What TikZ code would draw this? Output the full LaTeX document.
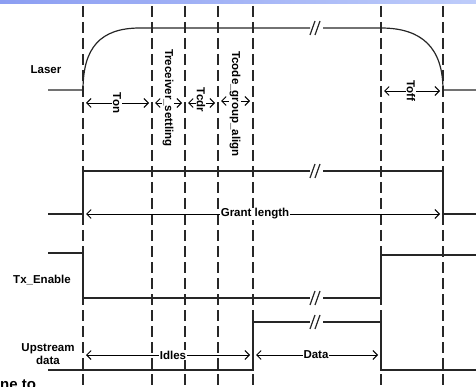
\documentclass[tikz,border=0pt]{standalone}
\usepackage{fontspec}
\setmainfont{Liberation Sans}
\usetikzlibrary{arrows.meta}
\definecolor{bandleft}{RGB}{140,158,242}
\definecolor{bandright}{RGB}{190,204,250}
\definecolor{gridgray}{RGB}{40,40,40}
\tikzset{
  sig/.style={line width=1.2pt,black!85},
  vdash/.style={line width=1.4pt,gridgray,dash pattern=on 11pt off 5pt},
  lbl/.style={font=\bfseries\fontsize{11.5}{12.5}\selectfont,inner sep=1pt},
  rlbl/.style={lbl,rotate=-90,fill=white},
  dim/.style={line width=0.9pt,{Straight Barb[length=4.5pt,width=9pt]}-{Straight Barb[length=4.5pt,width=9pt]}},
}
\newcommand{\brkmark}[2]{\draw[sig] (#1-6,#2+7)--(#1-1,#2-7) (#1-1,#2+7)--(#1+4,#2-7);}
\begin{document}
\begin{tikzpicture}[x=1pt,y=-1pt]
\useasboundingbox (0,0) rectangle (476,387);
\shade[left color=bandleft,right color=bandright] (0,0) rectangle (476,4);
% time marks
\foreach \x in {83,152,185,218,253,381,443}
  \draw[vdash] (\x,6) -- (\x,387);
% signal names
\node[lbl] (laser) at (46,70) {Laser};
\node[lbl] (txen) at (42,280) {Tx\_Enable};
\node[lbl,align=center] (updata) at (48,354) {Upstream\\data};
% Laser
\draw[sig] (48,90) -- (83,90) .. controls (83,48) and (100,28) .. (140,28) -- (310,28);
\draw[sig] (323,28) -- (381,28) .. controls (422,28) and (443,48) .. (443,90) -- (476,90);
\brkmark{316}{28}
% grant
\draw[sig] (48,214) -- (83,214) -- (83,171) -- (310,171);
\draw[sig] (323,171) -- (443,171) -- (443,214) -- (476,214);
\brkmark{316}{171}
% Tx_Enable
\draw[sig] (48,253) -- (83,253) -- (83,298) -- (310,298);
\draw[sig] (323,298) -- (381,298) -- (381,255) -- (476,255);
\brkmark{316}{298}
% upstream data
\draw[sig] (48,370) -- (253,370) -- (253,322) -- (310,322);
\draw[sig] (323,322) -- (381,322) -- (381,370) -- (476,370);
\brkmark{316}{322}
% intervals
\coordinate (ton-a) at (86,103);   \coordinate (ton-b) at (149,103);
\coordinate (trs-a) at (155,103);  \coordinate (trs-b) at (182,103);
\coordinate (tcdr-a) at (188,103); \coordinate (tcdr-b) at (215,103);
\coordinate (tcga-a) at (221,101); \coordinate (tcga-b) at (250,101);
\coordinate (toff-a) at (384,91);  \coordinate (toff-b) at (440,91);
\coordinate (gl-a) at (86,214);    \coordinate (gl-b) at (440,214);
\coordinate (idl-a) at (86,355);   \coordinate (idl-b) at (250,355);
\coordinate (dat-a) at (256,355);  \coordinate (dat-b) at (378,355);
\draw[dim] (ton-a) -- (ton-b);
\draw[dim] (trs-a) -- (trs-b);
\draw[dim] (tcdr-a) -- (tcdr-b);
\draw[dim] (tcga-a) -- (tcga-b);
\draw[dim] (toff-a) -- (toff-b);
\draw[dim] (gl-a) -- (gl-b);
\draw[dim] (idl-a) -- (idl-b);
\draw[dim] (dat-a) -- (dat-b);
\node[rlbl] (ton) at (117,103) {Ton};
\node[rlbl] (trs) at (168,98) {Treceiver\_settling};
\node[rlbl] (tcdr) at (201,100) {Tcdr};
\node[rlbl] (tcga) at (235,104) {Tcode\_group\_align};
\node[rlbl] (toff) at (411,91) {Toff};
\node[lbl,fill=white] (gl) at (255,214) {Grant length};
\node[lbl,fill=white] (idl) at (173,355) {Idles};
\node[lbl,fill=white] (dat) at (316,355) {Data};
% cut-off caption
\node[font=\bfseries\fontsize{15}{16}\selectfont,anchor=north west,inner sep=0pt] (cap) at (0,380) {ne to};
\end{tikzpicture}
\end{document}
